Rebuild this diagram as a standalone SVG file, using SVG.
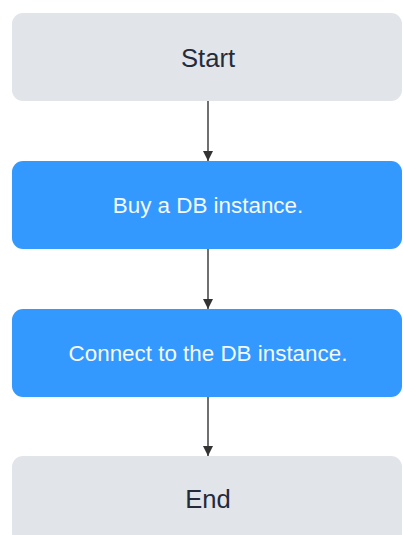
<svg xmlns="http://www.w3.org/2000/svg" width="403" height="535" viewBox="0 0 403 535">
  <style>
    .box { stroke: none; }
    .grey { fill: #e1e4e8; }
    .blue { fill: #3399ff; }
    .label { font-family: "Liberation Sans", Arial, sans-serif; text-anchor: middle; }
    .dark { fill: #252b3a; font-size: 25.6px; }
    .light { fill: #f4f8ff; font-size: 22.4px; }
    .edge { stroke: #333333; stroke-width: 1.4; fill: none; }
  </style>
  <defs>
    <marker id="arrow" viewBox="0 0 10 10" refX="10" refY="5" markerWidth="10" markerHeight="10" markerUnits="userSpaceOnUse" orient="auto">
      <path d="M0,0 L10,5 L0,10 z" fill="#333333"/>
    </marker>
  </defs>

  <g id="edges">
    <line class="edge" x1="208" y1="101" x2="208" y2="161" marker-end="url(#arrow)"/>
    <line class="edge" x1="208" y1="249" x2="208" y2="309" marker-end="url(#arrow)"/>
    <line class="edge" x1="208" y1="397" x2="208" y2="456" marker-end="url(#arrow)"/>
  </g>

  <g id="start">
    <rect class="box grey" x="12" y="13" width="390" height="88" rx="11"/>
    <text class="label dark" x="208" y="66.5">Start</text>
  </g>

  <g id="buy">
    <rect class="box blue" x="12" y="161" width="390" height="88" rx="11"/>
    <text class="label light" x="208" y="213">Buy a DB instance.</text>
  </g>

  <g id="connect">
    <rect class="box blue" x="12" y="309" width="390" height="88" rx="11"/>
    <text class="label light" x="208" y="361">Connect to the DB instance.</text>
  </g>

  <g id="end">
    <rect class="box grey" x="12" y="456" width="390" height="88" rx="11"/>
    <text class="label dark" x="208" y="508">End</text>
  </g>
</svg>
